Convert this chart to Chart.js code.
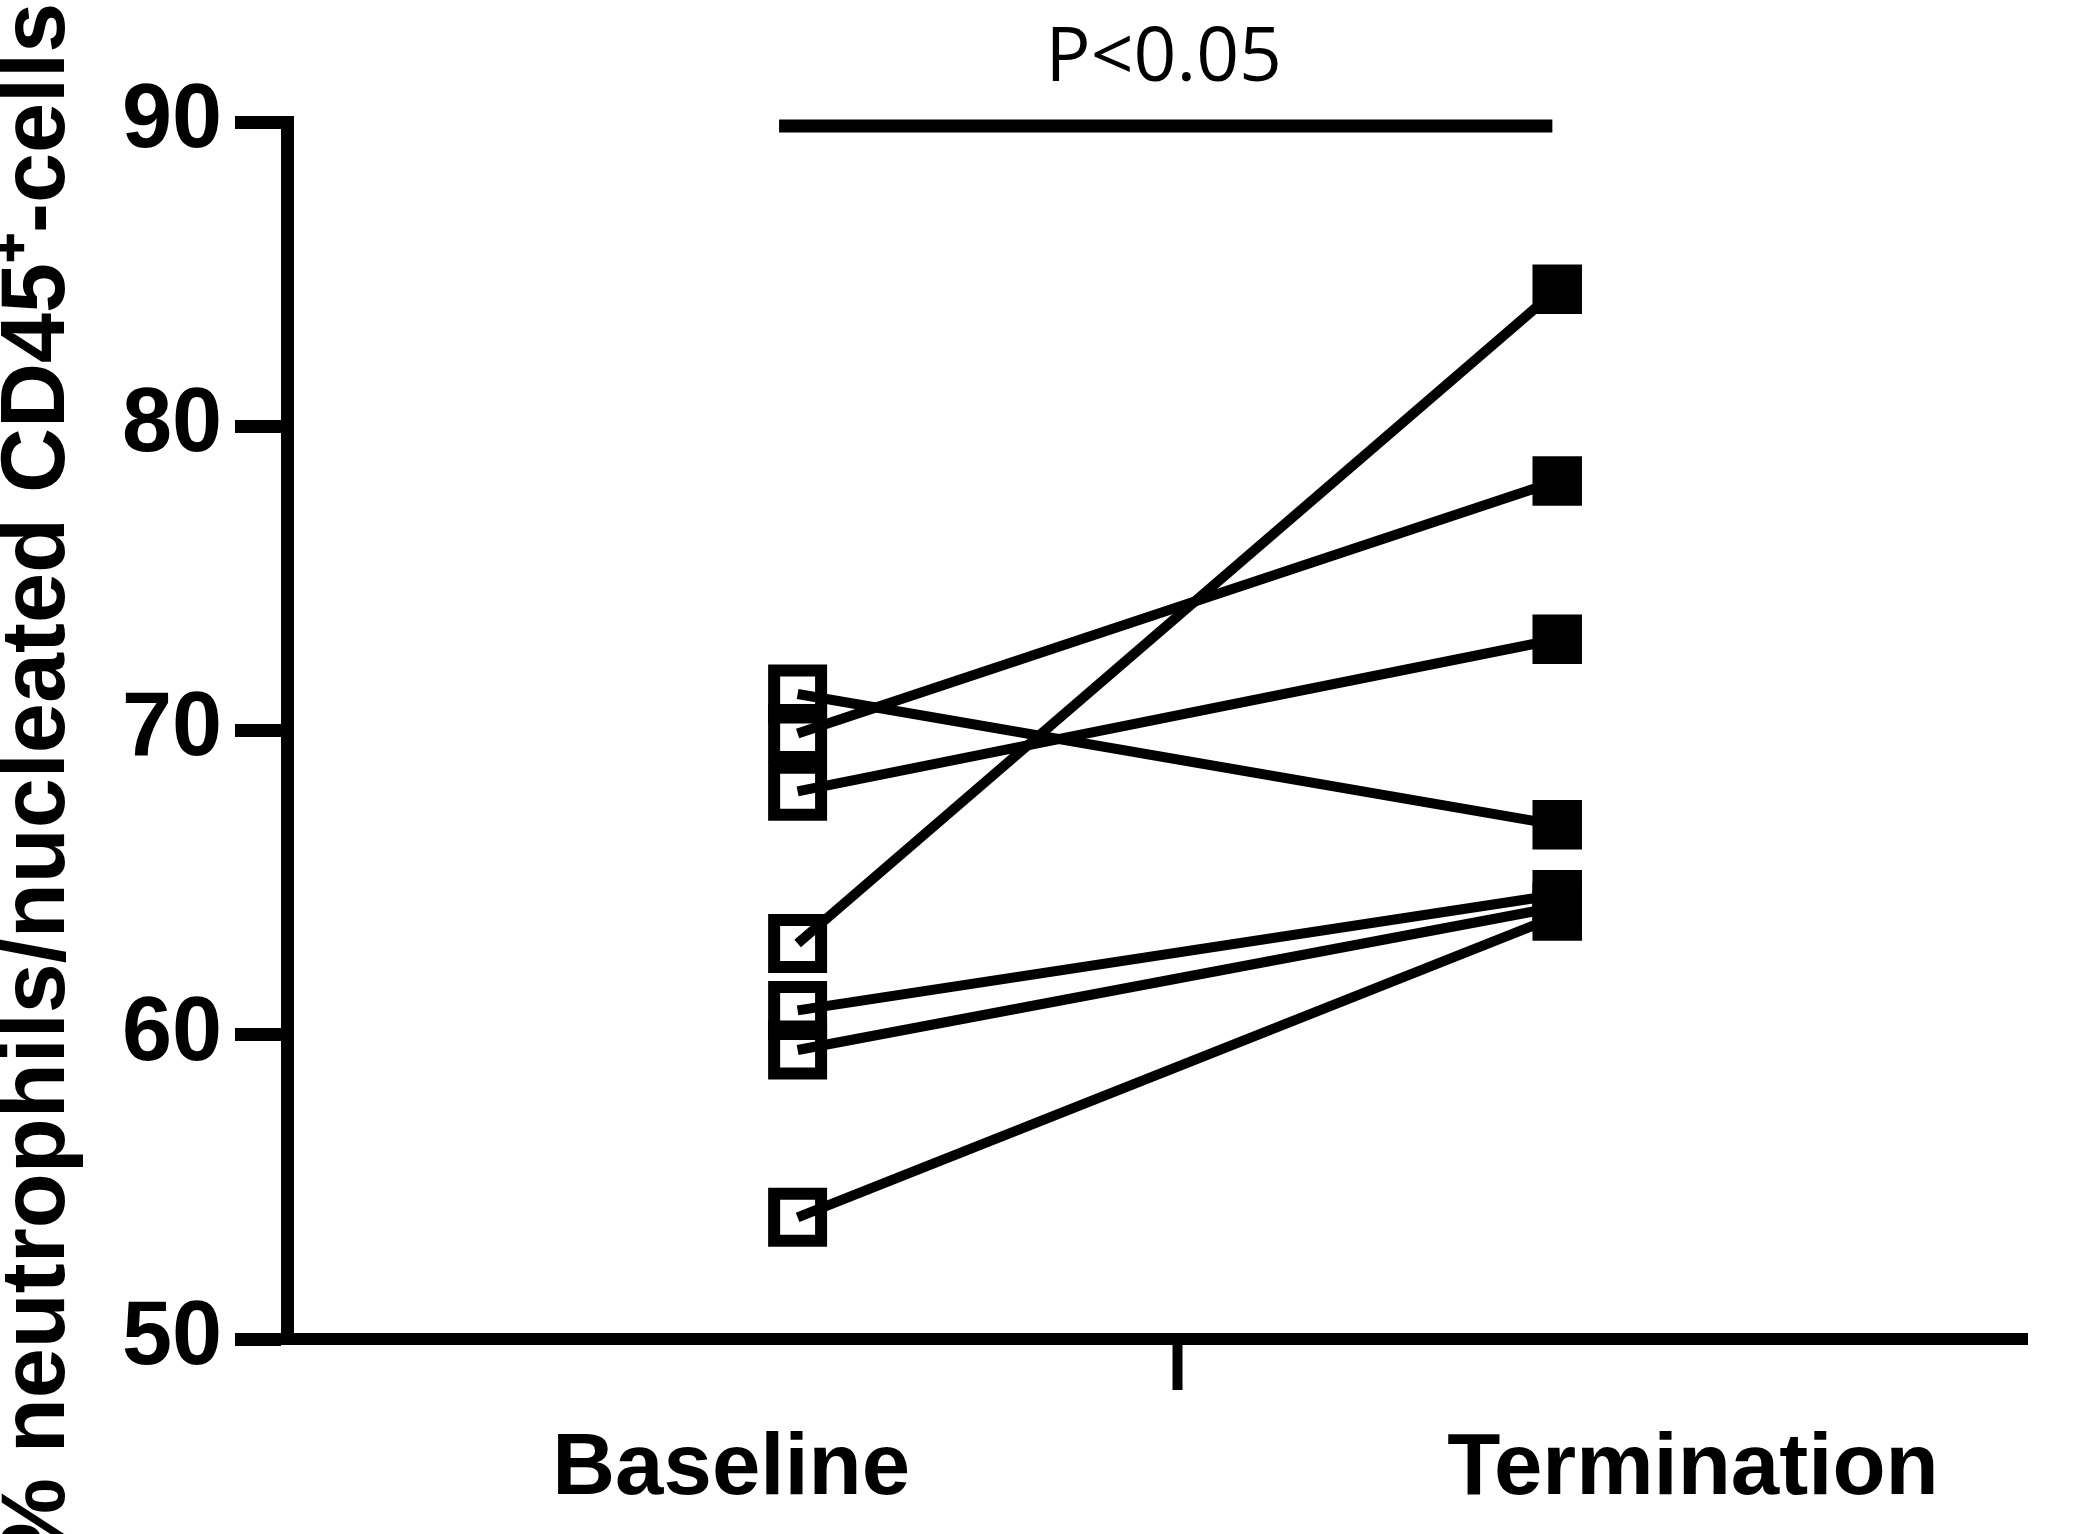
<!DOCTYPE html>
<html>
<head>
<meta charset="utf-8">
<script src="https://cdn.jsdelivr.net/npm/chart.js@4.4.1/dist/chart.umd.min.js"></script>
<style>
  html, body { margin: 0; padding: 0; background: #fff; }
  #wrap { width: 2073px; height: 1534px; position: relative; }
</style>
</head>
<body>
<div id="wrap"><canvas id="c"></canvas></div>
<script>
// ---- data ----
const categories = ['Baseline', 'Termination'];
const baselineValues = [71.2, 69.9, 68.0, 63.0, 60.8, 59.5, 54.0];
const terminationValues = [66.9, 78.2, 73.0, 84.5, 64.6, 64.2, 63.9];
const yTickValues = [50, 60, 70, 80, 90];
const yAxisTitle = '% neutrophils/nucleated CD45\u207A-cells';
const pValueLabel = 'P<0.05';

// ---- chart ----
const datasets = baselineValues.map((b, i) => ({
  data: [{ x: 1, y: b }, { x: 2, y: terminationValues[i] }],
  borderColor: '#000',
  borderWidth: 10,
  pointStyle: 'rect',
  pointRadius: [33.2, 35],
  pointBorderWidth: [12, 0],
  pointBorderColor: '#000',
  pointBackgroundColor: ['rgba(0,0,0,0)', '#000'],
  tension: 0,
  clip: false
}));

// significance bracket spanning both groups
datasets.push({
  data: [{ x: 0.9756, y: 89.87 }, { x: 1.9936, y: 89.87 }],
  borderColor: '#000',
  borderWidth: 13,
  pointRadius: 0,
  borderCapStyle: 'butt',
  clip: false
});

const labelPos = [0.9126, 2.1787];
const midTick = 1.5;

const pPlugin = {
  id: 'pLabel',
  afterDatasetsDraw(chart) {
    const { ctx, scales } = chart;
    const x = scales.x.getPixelForValue(1.482);
    ctx.save();
    ctx.fillStyle = '#000';
    ctx.font = '75px "Open Sans", "Noto Sans", sans-serif';
    ctx.textAlign = 'center';
    ctx.textBaseline = 'alphabetic';
    ctx.fillText(pValueLabel, x, 81);
    ctx.restore();
  }
};

new Chart(document.getElementById('c'), {
  type: 'line',
  data: { datasets },
  plugins: [pPlugin],
  options: {
    responsive: true,
    maintainAspectRatio: false,
    animation: false,
    devicePixelRatio: 1,
    layout: { padding: { top: 122, right: 3, left: 0, bottom: 0 } },
    plugins: { legend: { display: false }, tooltip: { enabled: false } },
    scales: {
      x: {
        type: 'linear',
        min: 0.3278,
        max: 2.6195,
        afterFit: s => { s.height = 195; },
        afterBuildTicks: s => {
          s.ticks = [{ value: labelPos[0] }, { value: midTick }, { value: labelPos[1] }];
        },
        ticks: {
          autoSkip: false,
          maxRotation: 0,
          padding: 28,
          color: '#000',
          font: { family: '"Liberation Sans", Arial, sans-serif', size: 87, weight: 'bold' },
          callback: (v) => {
            if (Math.abs(v - labelPos[0]) < 1e-6) return categories[0];
            if (Math.abs(v - labelPos[1]) < 1e-6) return categories[1];
            return '';
          }
        },
        grid: {
          drawOnChartArea: false,
          drawTicks: true,
          tickLength: 51,
          tickWidth: 10,
          tickColor: ctx => (ctx.tick && Math.abs(ctx.tick.value - midTick) < 1e-6) ? '#000' : 'rgba(0,0,0,0)'
        },
        border: { display: true, color: '#000', width: 12 }
      },
      y: {
        type: 'linear',
        min: 50,
        max: 90,
        afterFit: s => { s.width = 287; },
        afterBuildTicks: s => { s.ticks = yTickValues.map(v => ({ value: v })); },
        ticks: {
          padding: 13,
          color: '#000',
          font: { family: '"Liberation Sans", Arial, sans-serif', size: 90, weight: 'bold' }
        },
        grid: {
          drawOnChartArea: false,
          drawTicks: true,
          tickLength: 52,
          tickWidth: 13,
          tickColor: '#000'
        },
        border: { display: true, color: '#000', width: 13 },
        title: {
          display: true,
          text: yAxisTitle + '\u00A0\u00A0\u00A0\u00A0',
          color: '#000',
          padding: { top: 3, bottom: 0 },
          font: { family: '"Liberation Sans", Arial, sans-serif', size: 90, weight: 'bold', lineHeight: 0.8 }
        }
      }
    }
  }
});
</script>
</body>
</html>
